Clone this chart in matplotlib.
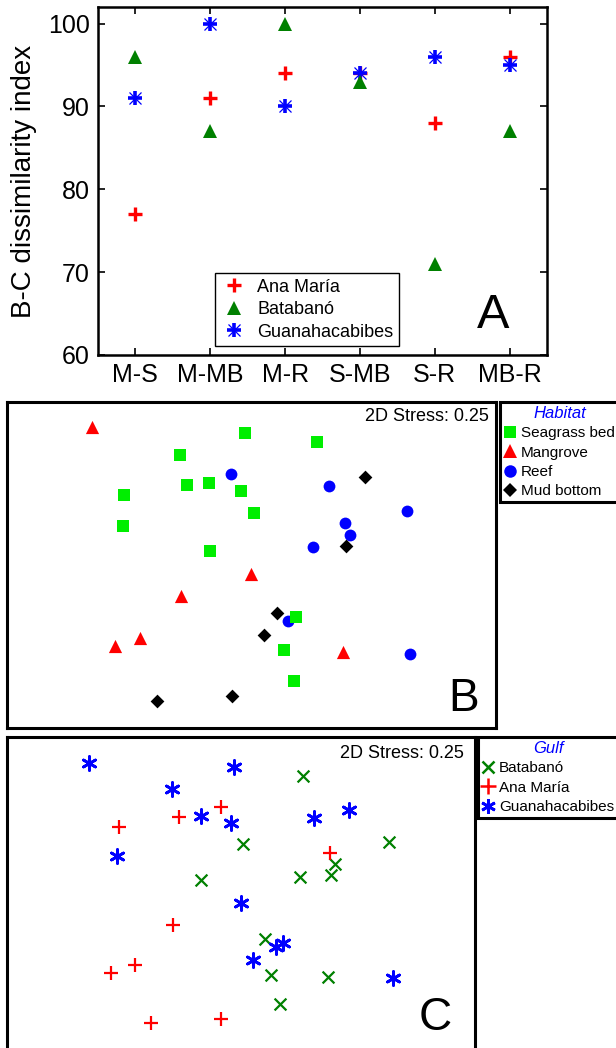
import numpy as np
import matplotlib
matplotlib.use("Agg")
import matplotlib.pyplot as plt
from matplotlib.lines import Line2D

plt.rcParams['font.family'] = ['Liberation Sans', 'DejaVu Sans']

# ---- panel A: B-C dissimilarity between habitat pairs
pairs = ['M-S', 'M-MB', 'M-R', 'S-MB', 'S-R', 'MB-R']
ana_maria = [77, 91, 94, 94, 88, 96]
batabano = [96, 87, 100, 93, 71, 87]
guanahacabibes = [91, 100, 90, 94, 96, 95]

# ---- panel B: nMDS by habitat
seagrass_x = [-0.07, 0.66, -0.72, -0.65, -0.43, -0.11, -1.28, 0.03, -1.29, -0.42, 0.45, 0.33, 0.43]
seagrass_y = [1.32, 1.23, 1.10, 0.80, 0.82, 0.74, 0.70, 0.52, 0.39, 0.14, -0.52, -0.85, -1.16]
mangrove_x = [-1.60, 0.00, -0.71, -1.12, -1.37, 0.92]
mangrove_y = [1.38, -0.09, -0.31, -0.73, -0.81, -0.87]
reef_x = [-0.21, 0.78, 1.56, 0.94, 0.99, 0.62, 0.37, 1.59]
reef_y = [0.91, 0.79, 0.54, 0.42, 0.30, 0.18, -0.56, -0.89]
mud_x = [1.14, 0.95, 0.26, 0.13, -0.95, -0.20]
mud_y = [0.88, 0.19, -0.48, -0.70, -1.36, -1.31]

# ---- panel C: nMDS by gulf
bat_x = [0.63, 0.03, 1.49, 0.95, 0.91, 0.60, -0.40, 0.25, 0.31, 0.88, 0.40]
bat_y = [1.22, 0.54, 0.56, 0.34, 0.23, 0.21, 0.18, -0.41, -0.77, -0.79, -1.06]
ana_x = [-0.20, -0.62, -1.22, 0.90, -0.68, -1.06, -1.30, -0.20, -0.90]
ana_y = [0.91, 0.81, 0.71, 0.45, -0.27, -0.67, -0.75, -1.21, -1.25]
gua_x = [-1.52, -0.07, -0.69, -0.40, -0.10, 0.74, 1.09, -1.24, 0.00, 0.43, 0.36, 0.13, 1.53]
gua_y = [1.35, 1.31, 1.09, 0.82, 0.75, 0.80, 0.88, 0.42, -0.05, -0.45, -0.49, -0.62, -0.80]

stress = '2D Stress: 0.25'

W, H = 616, 1048
fig = plt.figure(figsize=(W / 100, H / 100), dpi=100)


def rect(x0, y0, x1, y1):
    return [x0 / W, 1 - y1 / H, (x1 - x0) / W, (y1 - y0) / H]


def style_legend(leg):
    leg.get_frame().set_linewidth(2.2)
    leg.get_title().set_color('blue')
    leg.get_title().set_fontstyle('italic')
    leg.get_title().set_fontsize(12)


# ================= A =================
ax = fig.add_axes(rect(98, 7, 547, 355))
xs = np.arange(len(pairs))
ax.plot(xs, guanahacabibes, ls='none', marker='+', ms=10, mew=2.6, color='blue', zorder=3)
ax.plot(xs, guanahacabibes, ls='none', marker='x', ms=9, mew=0.9, color='blue', zorder=3)
ax.plot(xs, batabano, ls='none', marker='^', ms=10.5, mew=0, color='green', zorder=4)
ax.plot(xs, ana_maria, ls='none', marker='+', ms=10, mew=2.4, color='red', zorder=2)
ax.set_xlim(-0.5, 5.5)
ax.set_ylim(60, 102)
ax.set_xticks(xs)
ax.set_xticklabels(pairs)
ax.set_yticks([60, 70, 80, 90, 100])
ax.tick_params(direction='in', length=5, width=1.2, labelsize=18, top=True, right=True, pad=6)
ax.set_ylabel('B-C dissimilarity index', fontsize=20, labelpad=8)
for s in ax.spines.values():
    s.set_linewidth(1.8)
h_ana = Line2D([], [], ls='none', marker='+', ms=10, mew=2.4, color='red')
h_bat = Line2D([], [], ls='none', marker='^', ms=10.5, mew=0, color='green')
h_gua = (Line2D([], [], ls='none', marker='+', ms=10, mew=2.6, color='blue'),
         Line2D([], [], ls='none', marker='x', ms=9, mew=0.9, color='blue'))
leg = ax.legend([h_ana, h_bat, h_gua], ['Ana María', 'Batabanó', 'Guanahacabibes'],
                loc='lower left', bbox_to_anchor=(215 / W, 1 - 346 / H),
                bbox_transform=fig.transFigure, borderaxespad=0, fontsize=13,
                fancybox=False, framealpha=1, edgecolor='black', handlelength=1.5,
                handletextpad=0.55, labelspacing=0.3, borderpad=0.3)
leg.get_frame().set_linewidth(1.0)
ax.text(509, H - 328, 'A', transform=None, fontsize=35, ha='right', va='baseline')

# ================= B =================
axb = fig.add_axes(rect(7, 402, 496, 728))
axb.scatter(reef_x, reef_y, marker='o', s=8.5 ** 2, color='blue', lw=0, zorder=2)
axb.scatter(mud_x, mud_y, marker='D', s=7.0 ** 2, color='black', lw=0, zorder=3)
axb.scatter(seagrass_x, seagrass_y, marker='s', s=8.0 ** 2, color='#00ee00', lw=0, zorder=4)
axb.scatter(mangrove_x, mangrove_y, marker='^', s=9.5 ** 2, color='red', lw=0, zorder=5)
axb.set_xlim(-2.45, 2.45)
axb.set_ylim(-1.63, 1.63)
axb.set_xticks([])
axb.set_yticks([])
for s in axb.spines.values():
    s.set_linewidth(2.2)
axb.text(0.985, 0.955, stress, transform=axb.transAxes, ha='right', va='center', fontsize=13)
axb.text(479, H - 711, 'B', transform=None, fontsize=33, ha='right', va='baseline')
hb = [Line2D([], [], ls='none', marker='s', ms=8.5, mew=0, color='#00ee00'),
      Line2D([], [], ls='none', marker='^', ms=10, mew=0, color='red'),
      Line2D([], [], ls='none', marker='o', ms=9, mew=0, color='blue'),
      Line2D([], [], ls='none', marker='D', ms=7.5, mew=0, color='black')]
legb = fig.legend(hb, ['Seagrass bed', 'Mangrove', 'Reef', 'Mud bottom'],
                  loc='upper left', bbox_to_anchor=(500 / W, 1 - 402 / H), borderaxespad=0,
                  fontsize=11, title='Habitat', fancybox=False, framealpha=1,
                  edgecolor='black', handlelength=0.8, handletextpad=0.3,
                  labelspacing=0.34, borderpad=0.28)
style_legend(legb)

# ================= C =================
axc = fig.add_axes(rect(7, 737, 475, 1060))
axc.scatter(bat_x, bat_y, marker='x', s=8.5 ** 2, color='green', lw=1.6, zorder=2)
axc.scatter(ana_x, ana_y, marker='+', s=10.5 ** 2, color='red', lw=1.6, zorder=3)
axc.scatter(gua_x, gua_y, marker=(6, 2, 0), s=10 ** 2, color='blue', lw=2.0, zorder=4)
axc.set_xlim(-2.34, 2.35)
axc.set_ylim(-1.62, 1.61)
axc.set_xticks([])
axc.set_yticks([])
for s in axc.spines.values():
    s.set_linewidth(2.2)
axc.text(464, H - 753, stress, transform=None, ha='right', va='center', fontsize=13)
axc.text(452, H - 1030, 'C', transform=None, fontsize=33, ha='right', va='baseline')
hc = [Line2D([], [], ls='none', marker='x', ms=9, mew=1.8, color='green'),
      Line2D([], [], ls='none', marker='+', ms=11, mew=1.8, color='red'),
      Line2D([], [], ls='none', marker=(6, 2, 0), ms=10.5, mew=2.0, color='blue')]
legc = fig.legend(hc, ['Batabanó', 'Ana María', 'Guanahacabibes'],
                  loc='upper left', bbox_to_anchor=(478 / W, 1 - 737 / H), borderaxespad=0,
                  fontsize=11, title='Gulf', fancybox=False, framealpha=1,
                  edgecolor='black', handlelength=0.8, handletextpad=0.3,
                  labelspacing=0.34, borderpad=0.28)
style_legend(legc)

fig.savefig('out.png', dpi=100)
